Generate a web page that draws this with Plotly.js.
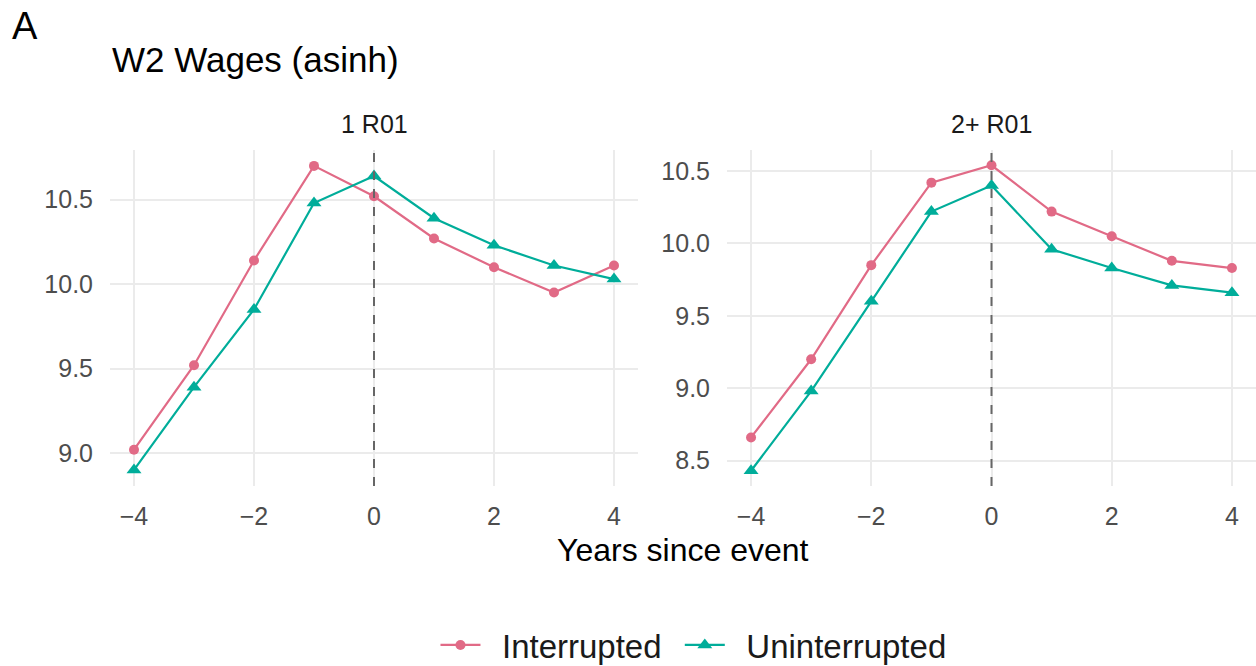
<!DOCTYPE html>
<html>
<head>
<meta charset="utf-8">
<script src="https://cdn.plot.ly/plotly-3.0.1.min.js"></script>
<style>html,body{margin:0;padding:0;background:#fff;}#chart{width:1256px;height:666px;}</style>
</head>
<body>
<div id="chart"></div>
<script>
// Data
const years = [-4, -3, -2, -1, 0, 1, 2, 3, 4];
const panel1Interrupted   = [9.02, 9.52, 10.14, 10.70, 10.52, 10.27, 10.10, 9.95, 10.11];
const panel1Uninterrupted = [8.90, 9.39, 9.85, 10.48, 10.64, 10.39, 10.23, 10.11, 10.03];
const panel2Interrupted   = [8.66, 9.20, 9.85, 10.42, 10.54, 10.22, 10.05, 9.88, 9.83];
const panel2Uninterrupted = [8.43, 8.98, 9.60, 10.22, 10.40, 9.96, 9.83, 9.71, 9.66];
const panelLabels = ['1 R01', '2+ R01'];
const seriesNames = ['Interrupted', 'Uninterrupted'];
const xTickVals = [-4, -2, 0, 2, 4];
const xTickText = ['\u22124', '\u22122', '0', '2', '4'];
const y1TickVals = [9.0, 9.5, 10.0, 10.5];
const y2TickVals = [8.5, 9.0, 9.5, 10.0, 10.5];

const pink = '#E16A86';
const teal = '#00AD9A';
const font = 'Liberation Sans, Arial, Helvetica, sans-serif';

function tr(y, name, color, symbol, size, xa, ya, show) {
  return {
    x: years, y: y, name: '\u2002' + name + '\u2009\u2009', type: 'scatter', mode: 'lines+markers',
    line: {color: color, width: 2.2},
    marker: {color: color, symbol: symbol, size: size},
    xaxis: xa, yaxis: ya, showlegend: show, legendgroup: name
  };
}

const data = [
  tr(panel1Interrupted, seriesNames[0], pink, 'circle', 10, 'x', 'y', true),
  tr(panel1Uninterrupted, seriesNames[1], teal, 'triangle-up', 13, 'x', 'y', true),
  tr(panel2Interrupted, seriesNames[0], pink, 'circle', 10, 'x2', 'y2', false),
  tr(panel2Uninterrupted, seriesNames[1], teal, 'triangle-up', 13, 'x2', 'y2', false)
];

function xax(domain, anchor) {
  return {
    domain: domain, anchor: anchor, range: [-4.4, 4.4],
    tickvals: xTickVals, ticktext: xTickText,
    showgrid: true, gridcolor: '#ebebeb', gridwidth: 2,
    zeroline: false, showline: false, ticks: '',
    tickfont: {family: font, size: 25, color: '#4d4d4d'},
    ticklabelstandoff: 13
  };
}
function yax(domain, anchor, range, vals) {
  return {
    domain: domain, anchor: anchor, range: range,
    tickvals: vals, tickformat: '.1f',
    showgrid: true, gridcolor: '#ebebeb', gridwidth: 2,
    zeroline: false, showline: false, ticks: '',
    tickfont: {family: font, size: 25, color: '#4d4d4d'},
    ticklabelstandoff: 16
  };
}

const yDom = [1 - 486/666, 1 - 150/666];
const layout = {
  width: 1256, height: 666,
  margin: {l: 0, r: 0, t: 0, b: 0, autoexpand: false},
  paper_bgcolor: '#fff', plot_bgcolor: '#fff',
  font: {family: font},
  xaxis: xax([110/1256, 638/1256], 'y'),
  yaxis: yax(yDom, 'x', [8.805, 10.794], y1TickVals),
  xaxis2: xax([727/1256, 1], 'y2'),
  yaxis2: yax(yDom, 'x2', [8.3245, 10.6455], y2TickVals),
  showlegend: true,
  legend: {
    orientation: 'h', x: 0.5573, xanchor: 'center', y: 1 - 645/666, yanchor: 'middle',
    font: {family: font, size: 33, color: '#1a1a1a'},
    itemwidth: 40, tracegroupgap: 0
  },
  shapes: [
    {type: 'line', xref: 'x', yref: 'y domain', x0: 0, x1: 0, y0: 0, y1: 1,
     line: {color: '#666666', width: 2, dash: 'dash'}},
    {type: 'line', xref: 'x2', yref: 'y2 domain', x0: 0, x1: 0, y0: 0, y1: 1,
     line: {color: '#666666', width: 2, dash: 'dash'}}
  ],
  annotations: [
    {text: 'A', xref: 'paper', yref: 'paper', x: 10/1256, y: 1 - 26/666,
     xanchor: 'left', yanchor: 'middle', showarrow: false,
     font: {family: font, size: 38, color: '#000'}},
    {text: 'W2 Wages (asinh)', xref: 'paper', yref: 'paper', x: 110/1256, y: 1 - 59/666,
     xanchor: 'left', yanchor: 'middle', showarrow: false,
     font: {family: font, size: 35, color: '#000'}},
    {text: panelLabels[0], xref: 'x domain', yref: 'paper', x: 0.5, y: 1 - 124/666,
     xanchor: 'center', yanchor: 'middle', showarrow: false,
     font: {family: font, size: 25, color: '#1a1a1a'}},
    {text: panelLabels[1], xref: 'x2 domain', yref: 'paper', x: 0.5, y: 1 - 124/666,
     xanchor: 'center', yanchor: 'middle', showarrow: false,
     font: {family: font, size: 25, color: '#1a1a1a'}},
    {text: 'Years since event', xref: 'paper', yref: 'paper', x: 683/1256, y: 1 - 550/666,
     xanchor: 'center', yanchor: 'middle', showarrow: false,
     font: {family: font, size: 32, color: '#000'}}
  ]
};

Plotly.newPlot('chart', data, layout, {displayModeBar: false, staticPlot: true});
</script>
</body>
</html>
